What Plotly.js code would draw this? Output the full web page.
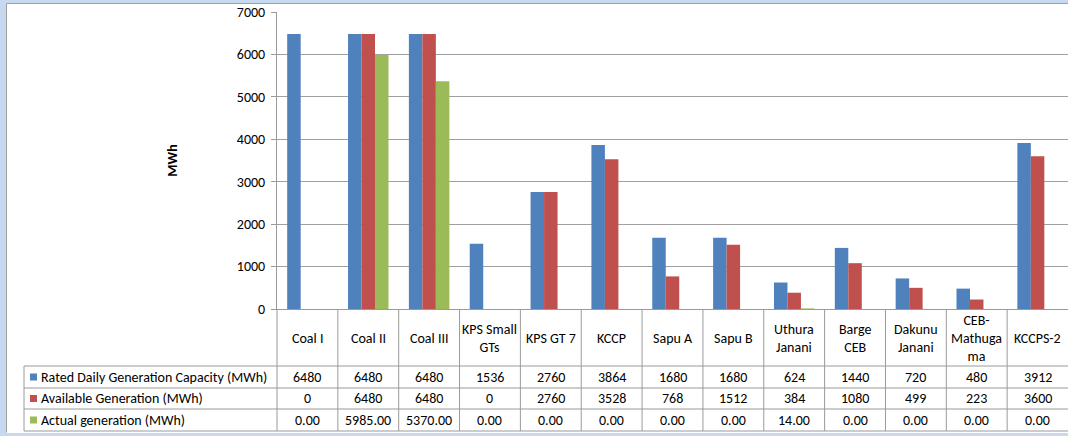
<!DOCTYPE html>
<html>
<head>
<meta charset="utf-8">
<script src="https://cdn.plot.ly/plotly-3.0.1.min.js"></script>
<style>html,body{margin:0;padding:0;background:#fff;}#chart{width:1068px;height:436px;}</style>
</head>
<body>
<div id="chart"></div>
<script>
// ---- data ----
const categories = ['Coal I','Coal II','Coal III','KPS Small GTs','KPS GT 7','KCCP','Sapu A','Sapu B','Uthura Janani','Barge CEB','Dakunu Janani','CEB-Mathuga ma','KCCPS-2'];
const categoryLabels = ['Coal I','Coal II','Coal III','KPS Small<br>GTs','KPS GT 7','KCCP','Sapu A','Sapu B','Uthura<br>Janani','Barge<br>CEB','Dakunu<br>Janani','CEB-<br>Mathuga<br>ma','KCCPS-2'];
const seriesNames = ['Rated Daily Generation Capacity (MWh)','Available Generation (MWh)','Actual generation (MWh)'];
const rated = [6480,6480,6480,1536,2760,3864,1680,1680,624,1440,720,480,3912];
const available = [0,6480,6480,0,2760,3528,768,1512,384,1080,499,223,3600];
const actual = [0,5985,5370,0,0,0,0,0,14,0,0,0,0];
const yTicks = [0,1000,2000,3000,4000,5000,6000,7000];
const yTitle = 'MWh';

// ---- style ----
const colors = ['#4F81BD','#C0504D','#9BBB59'];
const FONT = 'Carlito, Calibri, Lato, sans-serif';
const FS = 14;
const W = 1068, H = 436, ML = 277, MR = 0, MT = 12, MB = 127;
const PW = W - ML - MR, PH = H - MT - MB;
const px2x = p => (p - ML) / PW;
const py2y = p => 1 - (p - MT) / PH;
const lineCol = '#9a9a9a';
const frameCol = '#c6d9f1';
const frameLine = '#a0a0a0';

const series = [rated, available, actual];
const fmt = [v => String(v), v => String(v), v => v.toFixed(2)];

const traces = series.map((vals, k) => ({
  type: 'bar',
  name: seriesNames[k],
  x: categories,
  y: vals,
  marker: {color: colors[k], line: {width: 0}},
  hoverinfo: 'x+y+name'
}));

const shapes = [];
const annotations = [];

// frame
shapes.push({type:'rect', xref:'paper', yref:'paper', x0:px2x(0), x1:px2x(6), y0:py2y(0), y1:py2y(H), fillcolor:frameCol, line:{width:0}});
shapes.push({type:'rect', xref:'paper', yref:'paper', x0:px2x(0), x1:px2x(W), y0:py2y(0), y1:py2y(3), fillcolor:frameCol, line:{width:0}});
shapes.push({type:'rect', xref:'paper', yref:'paper', x0:px2x(0), x1:px2x(W), y0:py2y(433), y1:py2y(H), fillcolor:frameCol, line:{width:0}});
shapes.push({type:'line', xref:'paper', yref:'paper', x0:px2x(6.5), x1:px2x(W), y0:py2y(3.5), y1:py2y(3.5), line:{color:frameLine, width:1}});
shapes.push({type:'line', xref:'paper', yref:'paper', x0:px2x(6.5), x1:px2x(6.5), y0:py2y(3.5), y1:py2y(432.5), line:{color:frameLine, width:1}});

// table horizontal lines
const rowLines = [366, 388, 409, 431];
rowLines.forEach(p => shapes.push({type:'line', xref:'paper', yref:'paper', x0:px2x(24), x1:px2x(W), y0:py2y(p), y1:py2y(p), line:{color:lineCol, width:1}}));
shapes.push({type:'line', xref:'paper', yref:'paper', x0:px2x(24), x1:px2x(24), y0:py2y(366), y1:py2y(431), line:{color:lineCol, width:1}});
// table vertical lines at category boundaries
for (let i = 0; i < categories.length; i++) {
  const xp = i / categories.length;
  shapes.push({type:'line', xref:'paper', yref:'paper', x0:xp, x1:xp, y0:py2y(309), y1:py2y(431), line:{color:lineCol, width:1}});
}

// header labels
categoryLabels.forEach((lab, i) => annotations.push({
  xref:'x', yref:'paper', x:i, y:py2y(338), text:lab, showarrow:false,
  xanchor:'center', yanchor:'middle', align:'center', font:{family:FONT, size:FS, color:'#000'}
}));

// rows
const rowCenters = [377, 398.5, 420];
series.forEach((vals, k) => {
  const yc = py2y(rowCenters[k]);
  shapes.push({type:'rect', xref:'paper', yref:'paper', x0:px2x(30), x1:px2x(37), y0:py2y(rowCenters[k]-3.5), y1:py2y(rowCenters[k]+3.5), fillcolor:colors[k], line:{width:0}});
  annotations.push({xref:'paper', yref:'paper', x:px2x(39), y:yc, text:seriesNames[k], showarrow:false, xanchor:'left', yanchor:'middle', font:{family:FONT, size:FS, color:'#000'}});
  vals.forEach((v, i) => annotations.push({
    xref:'x', yref:'paper', x:i, y:yc, text:fmt[k](v), showarrow:false,
    xanchor:'center', yanchor:'middle', font:{family:FONT, size:FS, color:'#000'}
  }));
});

const layout = {
  width: W, height: H,
  margin: {l: ML, r: MR, t: MT, b: MB, pad: 0},
  paper_bgcolor: '#ffffff',
  plot_bgcolor: '#ffffff',
  showlegend: false,
  barmode: 'group',
  bargap: 0.335,
  bargroupgap: 0,
  font: {family: FONT, size: FS, color: '#000'},
  xaxis: {
    type: 'category', range: [-0.5, categories.length - 0.5],
    showticklabels: false, ticks: '', showgrid: false, zeroline: false,
    showline: true, linecolor: lineCol, linewidth: 1, fixedrange: true
  },
  yaxis: {
    range: [0, 7000], tickvals: yTicks, ticktext: yTicks.map(String),
    ticks: 'outside', ticklen: 5, tickcolor: lineCol, tickwidth: 1,
    showline: true, linecolor: lineCol, linewidth: 1,
    showgrid: true, gridcolor: '#a0a0a0', gridwidth: 1,
    zeroline: false, ticklabelstandoff: 3,
    tickfont: {family: FONT, size: FS, color: '#000'},
    title: {text: yTitle, standoff: 55, font: {family: FONT, size: 14, weight: 'bold', color: '#000'}},
    automargin: false, fixedrange: true
  },
  shapes: shapes,
  annotations: annotations
};

Plotly.newPlot('chart', traces, layout, {displayModeBar: false, staticPlot: true});
</script>
</body>
</html>
